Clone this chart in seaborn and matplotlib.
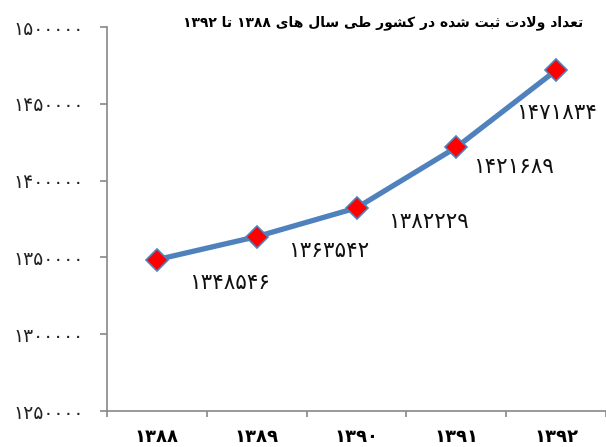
import matplotlib
matplotlib.use("Agg")
import matplotlib.pyplot as plt
import numpy as np
import pandas as pd
import seaborn as sns

years = ["1388", "1389", "1390", "1391", "1392"]
births = [1348546, 1363542, 1382229, 1421689, 1471834]
y_ticks = [1250000, 1300000, 1350000, 1400000, 1450000, 1500000]
title = "تعداد ولادت ثبت شده در کشور طی سال های 1388 تا 1392"

# label offsets in points (dx, dy) relative to each marker
label_offsets = [(52, -17), (52, -10), (52, -10), (41, -14), (0, -31)]

FA_DIGITS = str.maketrans("0123456789", "۰۱۲۳۴۵۶۷۸۹")

# isolated, final, initial, medial
FORMS = {
    "ا": ("\uFE8D", "\uFE8E", None, None),
    "ب": ("\uFE8F", "\uFE90", "\uFE91", "\uFE92"),
    "ت": ("\uFE95", "\uFE96", "\uFE97", "\uFE98"),
    "ث": ("\uFE99", "\uFE9A", "\uFE9B", "\uFE9C"),
    "د": ("\uFEA9", "\uFEAA", None, None),
    "ر": ("\uFEAD", "\uFEAE", None, None),
    "س": ("\uFEB1", "\uFEB2", "\uFEB3", "\uFEB4"),
    "ش": ("\uFEB5", "\uFEB6", "\uFEB7", "\uFEB8"),
    "ط": ("\uFEC1", "\uFEC2", "\uFEC3", "\uFEC4"),
    "ع": ("\uFEC9", "\uFECA", "\uFECB", "\uFECC"),
    "ل": ("\uFEDD", "\uFEDE", "\uFEDF", "\uFEE0"),
    "ه": ("\uFEE9", "\uFEEA", "\uFEEB", "\uFEEC"),
    "و": ("\uFEED", "\uFEEE", None, None),
    "ی": ("\uFBFC", "\uFBFD", "\uFBFE", "\uFBFF"),
    "ک": ("\uFB8E", "\uFB8F", "\uFB90", "\uFB91"),
}


def shape_word(word):
    word = word.replace("لا", "\uFEFB")
    out = []
    chars = list(word)
    for i, c in enumerate(chars):
        if c == "\uFEFB":
            prev_joins = i > 0 and chars[i - 1] in FORMS and FORMS[chars[i - 1]][2] is not None
            out.append("\uFEFC" if prev_joins else "\uFEFB")
            continue
        if c not in FORMS:
            out.append(c)
            continue
        iso, fin, ini, med = FORMS[c]
        prev_joins = i > 0 and chars[i - 1] in FORMS and FORMS[chars[i - 1]][2] is not None
        next_joins = i + 1 < len(chars) and (chars[i + 1] in FORMS or chars[i + 1] == "\uFEFB") and ini is not None
        if prev_joins and next_joins:
            out.append(med)
        elif prev_joins:
            out.append(fin)
        elif next_joins:
            out.append(ini)
        else:
            out.append(iso)
    return "".join(out)


def visual(text):
    words = []
    for w in text.split(" "):
        if w.isdigit():
            words.append(w.translate(FA_DIGITS))
        else:
            words.append(shape_word(w)[::-1])
    return " ".join(words[::-1])


df = pd.DataFrame({"year": [y.translate(FA_DIGITS) for y in years], "births": births})

fig = plt.figure(figsize=(6.06, 4.47), dpi=100)
ax = fig.add_axes([0.1766, 0.0805, 0.8234, 0.859])
sns.lineplot(data=df, x="year", y="births", ax=ax, color="#4F81BD", linewidth=3.8,
             marker="D", markersize=11, markerfacecolor="red", markeredgecolor="#4F81BD",
             markeredgewidth=1.2, sort=False)

for i, v in enumerate(births):
    dx, dy = label_offsets[i]
    ax.annotate(str(v).translate(FA_DIGITS), (i, v), xytext=(dx, dy), textcoords="offset points",
                ha="center", va="center", fontsize=15.5, color="#111111")

ax.set_xlim(-0.5, 4.5)
ax.set_ylim(y_ticks[0], y_ticks[-1])
ax.set_yticks(y_ticks)
ax.set_yticklabels([str(t).translate(FA_DIGITS) for t in y_ticks], fontsize=13.5, color="#222222")
ax.set_xticks(range(len(years)))
ax.set_xticklabels(df["year"], fontsize=13, fontweight="bold")
ax.set_xticks(np.arange(-0.5, 5, 1), minor=True)
ax.tick_params(axis="x", which="major", length=0, pad=12)
ax.tick_params(axis="x", which="minor", length=4, width=1.2, color="#888888", direction="out")
ax.tick_params(axis="y", length=5, width=1.2, color="#888888", pad=12)
ax.set_xlabel("")
ax.set_ylabel("")
for s in ["top", "right"]:
    ax.spines[s].set_visible(False)
for s in ["left", "bottom"]:
    ax.spines[s].set_color("#888888")
    ax.spines[s].set_linewidth(1.2)

fig.text(0.633, 0.95, visual(title), ha="center", va="center", fontsize=10, fontweight="bold")

fig.savefig("out.png", dpi=100)
